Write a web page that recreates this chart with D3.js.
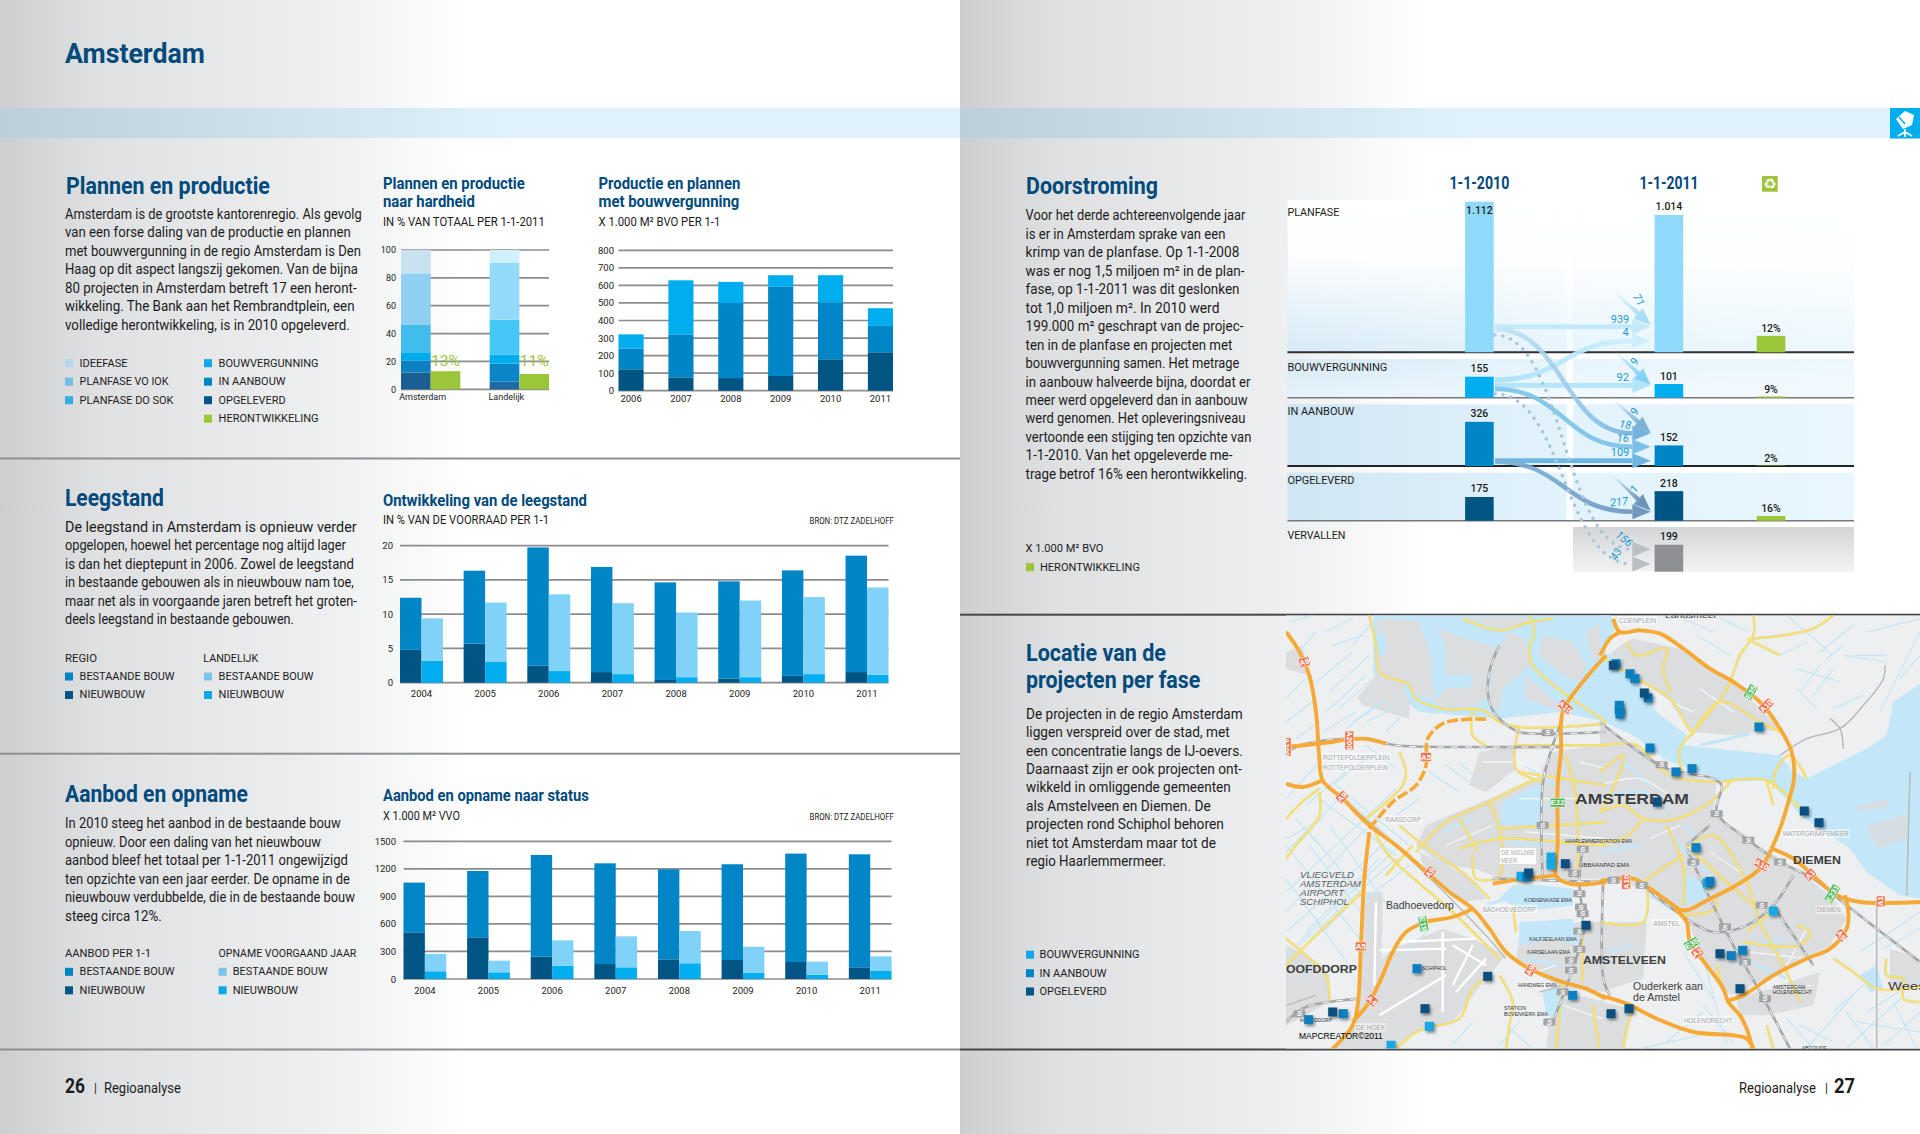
<!DOCTYPE html>
<html><head><meta charset="utf-8">
<script src="https://cdn.jsdelivr.net/npm/d3@7/dist/d3.min.js"></script>
<style>html,body{margin:0;padding:0;background:#fff}svg{display:block}</style>
</head><body><svg id="c" width="1920" height="1134"></svg>
<script>
/* ---------- DATA ---------- */
const hardheidCats=['Amsterdam','Landelijk'];
const hardheidPhases=['opgeleverd','aanbouw','bouwverg','dosok','voiok','idee'];
const hardheidAmsterdam=[12,8.6,6,19.6,37,16.8];
const hardheidLandelijk=[5.5,13,6.5,25,41,9];
const hardheidHerontw=[13,11];
const productieYears=['2006','2007','2008','2009','2010','2011'];
const prodOpgeleverd=[122,76,72,84,179,219];
const prodAanbouw=[119,245,428,509,323,150];
const prodBouwverg=[80,308,120,65,156,101];
const years8=['2004','2005','2006','2007','2008','2009','2010','2011'];
const leegRegioNieuw=[4.8,5.7,2.5,1.55,0.4,0.6,1.0,1.55];
const leegRegioTotaal=[12.4,16.35,19.75,16.9,14.65,14.8,16.4,18.55];
const leegLandNieuw=[3.2,3.1,1.7,1.25,0.8,0.8,1.25,1.15];
const leegLandTotaal=[9.4,11.7,12.9,11.6,10.25,12.0,12.5,13.9];
const aanbodNieuw=[508,454,243,163,214,207,185,127];
const aanbodTotaal=[1050,1177,1351,1260,1195,1250,1366,1358];
const opnameNieuw=[84,73,145,127,171,65,47,87];
const opnameTotaal=[272,200,421,465,523,352,189,247];
const flowRows=['PLANFASE','BOUWVERGUNNING','IN AANBOUW','OPGELEVERD','VERVALLEN'];
const stock2010=[1112,155,326,175,null];
const stock2011=[1014,101,152,218,199];
const stockLabels2010=['1.112','155','326','175',''];
const stockLabels2011=['1.014','101','152','218','199'];
const herontwPct=[12,9,2,16];
const curveLabels=['18','16','217'];
const straightLabels=['939','92','109'];
const dottedLabels=['156','43'];
const diagonalLabels=['71','9','9','1'];

const bodyPlannen=['Amsterdam is de grootste kantorenregio. Als gevolg','van een forse daling van de productie en plannen','met bouwvergunning in de regio Amsterdam is Den','Haag op dit aspect langszij gekomen. Van de bijna','80 projecten in Amsterdam betreft 17 een heront-','wikkeling. The Bank aan het Rembrandtplein, een','volledige herontwikkeling, is in 2010 opgeleverd.'];
const bodyLeegstand=['De leegstand in Amsterdam is opnieuw verder','opgelopen, hoewel het percentage nog altijd lager','is dan het dieptepunt in 2006. Zowel de leegstand','in bestaande gebouwen als in nieuwbouw nam toe,','maar net als in voorgaande jaren betreft het groten-','deels leegstand in bestaande gebouwen.'];
const bodyAanbod=['In 2010 steeg het aanbod in de bestaande bouw','opnieuw. Door een daling van het nieuwbouw','aanbod bleef het totaal per 1-1-2011 ongewijzigd','ten opzichte van een jaar eerder. De opname in de','nieuwbouw verdubbelde, die in de bestaande bouw','steeg circa 12%.'];
const bodyDoor=['Voor het derde achtereenvolgende jaar','is er in Amsterdam sprake van een','krimp van de planfase. Op 1-1-2008','was er nog 1,5 miljoen m² in de plan-','fase, op 1-1-2011 was dit geslonken','tot 1,0 miljoen m². In 2010 werd','199.000 m² geschrapt van de projec-','ten in de planfase en projecten met','bouwvergunning samen. Het metrage','in aanbouw halveerde bijna, doordat er','meer werd opgeleverd dan in aanbouw','werd genomen. Het opleveringsniveau','vertoonde een stijging ten opzichte van','1-1-2010. Van het opgeleverde me-','trage betrof 16% een herontwikkeling.'];
const bodyLocatie=['De projecten in de regio Amsterdam','liggen verspreid over de stad, met','een concentratie langs de IJ-oevers.','Daarnaast zijn er ook projecten ont-','wikkeld in omliggende gemeenten','als Amstelveen en Diemen. De','projecten rond Schiphol behoren','niet tot Amsterdam maar tot de','regio Haarlemmermeer.'];

/* map geography, in local map units of the west and east sheet */
const waterW=[
 [[262,10],[960,10],[960,330],[820,300],[640,320],[400,300],[262,190]],
 [[640,860],[680,820],[760,820],[860,830],[860,880],[780,890],[700,890]],
 [[650,570],[770,510],[770,640],[640,640]],
 [[700,930],[860,920],[880,1000],[790,980],[700,1000]],
 [[770,1140],[830,1120],[830,1220],[780,1210]]];
const waterE=[
 [[0,130],[30,125],[130,230],[170,300],[260,370],[250,400],[540,430],[580,480],[620,500],[800,410],[860,370],[880,270],[960,215],[960,860],[900,850],[800,780],[750,710],[600,610],[560,560],[500,505],[370,510],[300,480],[200,445],[100,370],[0,325]],
 [[0,0],[30,0],[45,50],[0,120]],
 [[250,790],[310,800],[330,860],[250,880]],
 [[780,1090],[830,1060],[850,1130],[810,1140]]];
const hatchE=[[[750,585],[870,560],[860,585],[780,595]],[[800,640],[920,605],[925,680],[830,710]]];
const portLandW=[
 [[275,20],[395,25],[430,110],[445,265],[385,245],[370,215],[285,185],[270,130],[300,130],[300,70],[270,60]],
 [[450,50],[640,110],[610,180],[600,260],[555,285],[470,285],[440,270],[480,230],[560,225],[560,185],[480,190],[480,100]],
 [[670,60],[715,80],[735,150],[700,190],[650,230],[640,300],[610,270],[620,140]],
 [[720,190],[800,260],[830,300],[720,260]],
 [[530,15],[720,15],[720,35],[640,50]],
 [[770,70],[860,90],[900,160],[880,210],[830,190],[760,130]],
 [[900,60],[960,20],[960,110],[920,150]]];
const urbanW=[
 [[215,255],[275,185],[350,215],[370,270],[370,320],[230,280]],
 [[420,640],[610,560],[750,500],[800,420],[960,395],[960,800],[640,800],[570,770],[470,760],[390,700]],
 [[580,420],[690,400],[690,470],[600,540],[550,520]],
 [[215,1220],[230,1100],[320,1010],[470,950],[560,980],[660,1030],[600,1100],[500,1230],[400,1260],[300,1310],[130,1320]],
 [[240,840],[290,840],[285,1140],[225,1130]],
 [[0,1000],[60,1030],[130,1090],[130,1170],[40,1220],[0,1240]],
 [[700,970],[880,930],[960,930],[960,1140],[830,1130],[690,1050]],
 [[810,1135],[960,1170],[960,1320],[780,1320],[790,1220]],
 [[400,720],[540,790],[600,860],[530,870],[420,790]],
 [[0,120],[50,100],[70,190],[0,170]]];
const urbanE=[
 [[60,100],[100,80],[240,110],[400,210],[540,350],[400,370],[280,360],[200,260],[100,190],[30,130]],
 [[0,340],[100,400],[200,470],[350,510],[340,600],[440,680],[590,770],[700,860],[740,920],[690,1000],[520,1090],[390,1150],[320,1060],[260,920],[225,890],[130,830],[0,800]],
 [[410,1160],[660,1080],[640,1180],[500,1210],[420,1210]],
 [[0,930],[140,930],[130,1100],[30,1130],[0,1130]],
 [[0,1170],[100,1190],[70,1320],[0,1320]],
 [[870,1010],[960,1040],[960,1130],[870,1120]]];
const canalsW=[[[600,880],[690,850]],[[720,460],[810,520]],[[700,560],[790,590]],[[470,660],[560,620]],[[660,690],[780,700]],[[720,1040],[820,1060]]];
const canalsE=[[[0,560],[130,540],[200,590]],[[260,640],[300,700]],[[0,720],[120,700]],[[150,850],[250,910]],[[430,1040],[560,1100]],[[450,1000],[560,980]],[[300,400],[450,365]],[[70,450],[150,520]],[[220,680],[330,790]],[[20,1020],[100,1000]]];
const streetsW=[[[680,440],[800,500]],[[700,560],[960,560]],[[480,700],[620,640]],[[880,450],[960,470]],[[720,660],[960,680]],[[590,450],[680,450]],[[720,1090],[810,1060]],[[830,1180],[950,1220]]];
const streetsE=[[[0,520],[120,500],[220,560]],[[150,680],[240,640]],[[330,720],[420,780]],[[450,1020],[620,1040]],[[120,230],[280,300]],[[300,230],[400,300]],[[560,1060],[620,950]],[[500,1130],[640,1120]]];
const runwaysW=[[[270,870],[265,1120]],[[330,990],[570,980]],[[470,960],[470,1200]],[[280,1015],[480,1010]],[[500,1000],[600,1060]],[[510,1140],[600,1040]],[[280,1210],[480,1090]],[[560,1000],[500,1120]]];
const ditchesW=[[[0,720],[180,540]],[[0,840],[330,530]],[[0,960],[300,690]],[[30,1000],[340,700]],[[110,960],[210,860]],[[60,580],[190,470]],[[0,560],[100,450]],[[140,520],[240,440]],[[30,130],[90,60]],[[130,240],[250,130]],[[160,290],[260,200]],[[200,330],[300,260]],[[130,640],[320,900]],[[70,700],[270,960]],[[0,800],[190,1060]],[[30,620],[100,700]],[[430,480],[520,540]],[[480,460],[550,510]],[[640,1300],[700,1230]],[[500,1300],[560,1230]],[[300,360],[370,290]],[[10,30],[80,10]],[[0,260],[60,200]],[[0,330],[90,260]],[[90,210],[200,120]],[[120,300],[240,190]],[[180,350],[290,270]],[[240,330],[320,290]],[[150,520],[370,700]],[[100,560],[330,730]],[[330,740],[40,1000]],[[370,760],[240,860]],[[0,1010],[70,1100]],[[200,100],[260,30]],[[120,60],[200,20]],[[240,400],[330,470]],[[110,620],[0,680]],[[0,900],[240,650]],[[60,960],[280,740]],[[180,560],[380,740]],[[60,650],[260,890]],[[0,700],[220,980]],[[110,360],[210,300]],[[30,380],[100,330]],[[140,100],[230,70]],[[330,610],[400,560]],[[520,450],[580,510]],[[660,1240],[740,1310]],[[330,1060],[430,950]]];
const ditchesE=[[[600,240],[660,160]],[[640,250],[700,170]],[[680,140],[730,100]],[[730,130],[860,150]],[[780,1020],[960,900]],[[800,1200],[960,1100]],[[850,1300],[960,1200]],[[740,1310],[900,1160]],[[620,1310],[760,1150]],[[120,1310],[300,1270]],[[300,1000],[380,1300]],[[250,1020],[340,1160]],[[560,10],[700,130]],[[540,130],[620,90]],[[900,200],[960,130]],[[840,300],[960,60]],[[590,170],[720,210]],[[590,230],[650,290]],[[760,130],[860,130]],[[700,290],[790,250]],[[770,1230],[960,1260]],[[600,1240],[700,1290]],[[740,1200],[820,1310]],[[250,20],[340,60]],[[360,20],[450,60]],[[290,70],[390,130]],[[880,1170],[950,1310]],[[660,120],[760,40]],[[800,60],[960,20]],[[850,1010],[960,950]],[[700,1200],[790,1120]],[[310,1180],[400,1290]],[[200,1290],[310,1200]],[[560,1220],[640,1310]]];
const grayRoadsW=[[[110,510],[350,720],[590,960],[660,1040]],[[0,1180],[90,1150]],[[760,1140],[830,1120]]];
const grayRoadsE=[[[540,430],[620,380],[720,350],[790,280],[850,200],[855,160]],[[690,320],[720,350],[730,410]],[[550,440],[520,490]],[[830,880],[830,1310]],[[930,480],[920,850]]];
const yellowW=[
 [[250,10],[270,100],[280,180],[370,220],[390,260],[470,290],[590,295],[640,330],[700,345],[820,345],[960,335]],
 [[560,295],[560,370],[600,400]],
 [[730,10],[745,60],[730,110],[740,160],[830,240],[880,275],[960,330]],
 [[530,20],[640,55],[730,30],[800,20]],
 [[700,340],[690,470],[770,510]],
 [[690,400],[960,400]],[[0,410],[50,400]],
 [[0,620],[60,560],[100,530]],
 [[100,540],[100,610],[30,700],[0,740]],
 [[340,420],[360,480],[350,520],[240,620]],
 [[340,640],[400,690],[470,740],[540,790],[610,860]],
 [[390,720],[480,630],[610,570],[730,510],[775,500]],
 [[610,570],[640,650],[650,730],[640,800]],
 [[640,650],[960,630]],
 [[520,710],[640,680],[820,690],[960,700]],
 [[560,730],[570,800],[640,800]],
 [[520,620],[560,690],[575,720]],
 [[700,480],[960,520]],
 [[840,430],[870,560],[875,800]],
 [[680,880],[690,960]],
 [[890,960],[890,1110]],
 [[640,1090],[680,1170],[670,1240],[660,1310]],
 [[605,1095],[560,1130],[520,1220],[400,1255],[330,1310]],
 [[0,980],[60,1030],[120,1090],[130,1170]],
 [[810,1310],[830,1110]],[[920,1180],[940,1310]],
 [[0,1060],[100,960],[230,840]],[[300,790],[380,700]],
 [[260,640],[300,720],[500,900],[640,1040]]];
const yellowE=[
 [[460,10],[460,70],[420,130],[380,230],[280,360],[240,410],[245,480]],
 [[460,80],[550,70],[640,50],[700,10]],
 [[0,130],[110,200],[210,260],[260,340],[280,370]],
 [[80,90],[110,130],[200,110],[190,170],[210,240]],
 [[280,360],[360,270],[480,330],[540,360]],
 [[370,510],[500,505],[600,590]],[[500,505],[520,580]],
 [[0,400],[110,400],[180,470],[240,500],[370,510]],
 [[0,480],[70,430],[60,480],[0,600]],
 [[0,600],[70,580],[130,620],[230,620],[330,570],[400,500]],
 [[130,620],[70,680],[0,690]],
 [[200,640],[250,770],[250,880]],
 [[140,800],[250,730]],
 [[260,710],[340,670],[440,810],[480,930],[550,1060],[600,1170]],
 [[280,720],[460,880]],
 [[440,960],[520,900],[540,900]],
 [[430,990],[600,1000],[630,960],[590,940]],
 [[340,850],[350,890],[250,910]],
 [[140,800],[130,930],[0,930]],
 [[700,1040],[760,1080],[830,1130],[960,1125]],
 [[860,1040],[860,1090],[910,1100],[910,1160],[960,1170]],
 [[350,1060],[370,1140]],[[500,1240],[520,1310]],
 [[100,1190],[80,1250],[70,1310]],
 [[540,130],[440,80]],[[620,500],[570,430],[530,470],[520,530]]];
const railW=[
 [[640,100],[610,180],[610,270],[640,320],[700,360],[790,365],[960,360]],
 [[0,420],[60,395],[240,380],[330,400],[600,405],[830,405]],
 [[830,320],[800,400],[770,520],[770,790]],
 [[890,710],[880,800],[890,960],[850,1100],[800,1230]],
 [[0,1230],[60,1185],[220,1160]],
 [[620,800],[960,810]]];
const railE=[
 [[0,330],[90,400],[200,470],[340,500],[365,520],[350,600],[440,680],[540,750],[640,800],[740,880],[960,1050]],
 [[260,710],[330,860],[400,1000],[480,1140],[570,1310]],
 [[260,700],[330,640]],
 [[130,820],[230,900],[340,960],[440,940],[520,880],[580,790]],
 [[520,880],[600,1000],[640,1060]],
 [[10,800],[10,1100],[30,1150]]];
const motorwayW=[
 [[0,60],[35,110],[70,190],[90,300],[100,440],[110,505],[170,560],[250,640],[330,700],[410,770],[490,840],[560,890],[610,950],[660,1020],[730,1070],[830,1110],[900,1130],[960,1160]],
 [[250,660],[235,800],[225,1000],[215,1180],[200,1240],[130,1320]],
 [[560,890],[500,915],[420,930],[360,960],[320,1020],[290,1090],[250,1170],[200,1230]],
 [[0,515],[50,525],[110,505]],
 [[0,405],[100,395],[230,380],[300,395]],
 [[960,130],[890,210],[830,300],[825,420],[815,520],[815,700],[810,790],[850,815],[960,810]],
 [[620,815],[680,805],[810,790]]];
const motorwayDashedW=[[[250,650],[320,570],[390,520],[420,460],[425,380],[470,335],[540,322],[610,322]]];
const motorwayE=[
 [[0,1150],[80,1175],[170,1220],[280,1260],[400,1270],[440,1280],[465,1320]],
 [[0,808],[100,800],[150,830],[240,895]],
 [[40,20],[60,60],[120,55],[180,65],[250,110],[330,170],[400,210],[480,270],[540,350],[575,420],[582,500],[565,570],[540,650],[515,710]],
 [[0,130],[30,80],[60,60]],
 [[515,710],[480,770],[400,825],[330,860],[260,895],[225,890]],
 [[515,710],[580,740],[650,800],[710,850],[780,870],[960,870]],
 [[735,850],[745,900],[740,950],[690,1010],[620,1040],[520,1090],[430,1150],[385,1165]],
 [[225,890],[260,930],[270,990],[320,1060],[370,1130],[385,1170],[420,1210],[440,1250],[460,1320]]];
const shieldsW=[['A9',55,150,-15],['A200',190,385,90],['A200',2,405,90],['A9',168,555,-45],['A5',420,435,0],['A10',838,285,40],['E22',815,572,0],['A9',432,782,-50],['E19',412,935,80],['A5',224,1003,0],['A4',258,1165,40],['A9',733,1075,-60]];
const shieldsE=[['E35',452,240,-60],['A10',498,282,-45],['A10',485,758,30],['A10',78,810,-90],['A1',630,788,-45],['E231',697,845,-60],['A1',842,868,-90],['A9',724,970,50],['E35',275,995,-30],['A2',292,1022,-35]];
const stationsW=[[785,362],[890,712],[865,785],[880,845],[885,885],[890,905],[880,958],[880,1012],[855,1045],[855,1075],[830,1140],[790,1230],[770,640],[40,1205]];
const stationsE=[[185,458],[350,605],[445,685],[540,750],[40,805],[125,820],[280,750],[375,945],[485,880],[435,1050],[495,1160]];
const placeGreyW=[['ROTTEPOLDERPLEIN',110,443,200],['ROTTEPOLDERPLEIN',110,474,196],['RAASDORP',298,631,107],['BADHOEVEDORP',590,899,160],['DE HOEK',210,1254,88]];
const placeGreyE=[['COENPLEIN',57,33,112],['WATERGRAAFSMEER',548,673,198],['DIEMEN',650,901,72],['AMSTEL',160,941,80],['HOLENDRECHT',252,1234,146]];
const placeSmallW=[['HAARLEMMERSTATION EMA',838,694,200],['UBBAANPAD EMA',880,765,150],['KOENENKADE EMA',715,871,143],['KALFJESLAAN EMA',730,987,143],['KARSELAAN EMA',724,1027,128],['HANDWEG EMA',696,1125,116],['STATION',654,1195,66],['BOVENKERK EMA',654,1211,132],['SCHIPHOL',408,1073,74],['HOOFDDORP',42,1231,96]];
const placeSmallE=[['AMSTERDAM',518,1130,98],['HOLENDRECHT',518,1145,118],['ABCOUDE',605,1314,76]];
const markersOpgeleverdW=[[838,755],[728,783],[900,940],[605,1093],[417,1190],[140,1200]];
const markersAanbouwW=[[722,795],[860,1150],[393,1070],[172,1205],[68,1223]];
const markersBouwvergW=[[795,735],[795,758],[705,793],[430,1243],[315,1300]];
const markersOpgeleverdE=[[40,160],[133,243],[172,570],[613,597],[657,632],[360,1025],[420,1130],[87,1190],[33,1205]];
const markersAanbouwE=[[48,155],[90,185],[105,200],[145,258],[58,280],[58,293],[60,306],[477,345],[150,408],[228,480],[276,470],[288,707],[330,808],[394,1031],[428,1015]];
const markersBouwvergE=[[322,813],[520,897]];

/* ---------- HELPERS ---------- */
const NARROW='Roboto,"Liberation Sans",sans-serif';
const svg=d3.select('#c'), defs=svg.append('defs');
const NAVY='#004a7c', INK='#1c1c1c', GREEN='#9bc63a';
const cLight='#00aeef', cMid='#0085c6', cDark='#005584', cPale='#80d2f8';
function T(x,y,s,o={}){
  const t=(o.g||svg).append('text').attr('x',x).attr('y',y).text(s)
   .attr('font-family',o.font||NARROW).attr('font-size',o.size||11).attr('fill',o.fill||INK)
   .attr('font-weight',o.weight||(o.bold?700:400)).attr('text-anchor',o.anchor||'start');
  if(o.italic)t.attr('font-style','italic');
  let tf='';
  if(o.rot!=null)tf+=`rotate(${o.rot} ${x} ${y}) `;
  if(o.w){ // horizontal condensing around the anchor, keeps the real box of the text equal to what is drawn
    const k=o.w/t.node().getComputedTextLength();
    tf+=`translate(${x} ${y}) scale(${k} 1) translate(${-x} ${-y})`;
  }
  if(tf)t.attr('transform',tf);
  return t;
}
function gradH(id,stops,x1=0,x2=1,y1=0,y2=0,user){
  const g=defs.append('linearGradient').attr('id',id).attr('x1',x1).attr('x2',x2).attr('y1',y1).attr('y2',y2);
  if(user)g.attr('gradientUnits','userSpaceOnUse');
  stops.forEach(s=>g.append('stop').attr('offset',s[0]).attr('stop-color',s[1]).attr('stop-opacity',s[2]==null?1:s[2]));
  return `url(#${id})`;
}
function body(lines,x,y0,widths,pitch=18.47){lines.forEach((l,i)=>T(x,y0+i*pitch,l,{size:14.5,w:widths[i]}));}
function legend(x,y,color,label,w,lx){
  svg.append('rect').attr('x',x).attr('y',y-7.5).attr('width',8).attr('height',8).attr('fill',color);
  T(lx,y,label,{size:11.5,w});
}

/* ---------- PAGES ---------- */
const pageBg=gradH('pg',[[0,'#cccecf'],[.1,'#dfe0e2'],[.34,'#eeeff0'],[.49,'#ffffff']]);
const bandBg=gradH('bb',[[0,'#bbcfdb'],[.25,'#cbdfe9'],[.52,'#dff1fb'],[1,'#dff1fb']]);
[0,960].forEach(x0=>{
  svg.append('rect').attr('x',x0).attr('y',0).attr('width',960).attr('height',1134).attr('fill',pageBg);
  svg.append('rect').attr('x',x0).attr('y',108).attr('width',960).attr('height',30).attr('fill',bandBg);
});
T(65,63.5,'Amsterdam',{size:28,bold:1,fill:NAVY,w:140});
[458.5,753.7,1049.5].forEach(y=>svg.append('rect').attr('x',0).attr('y',y-1).attr('width',960).attr('height',2).attr('fill','#8f9092'));
[[614.7,'#45474a'],[1049.5,'#45474a']].forEach(d=>svg.append('rect').attr('x',960).attr('y',d[0]-1).attr('width',960).attr('height',2).attr('fill',d[1]));
/* corner icon */
svg.append('rect').attr('x',1890).attr('y',108).attr('width',30).attr('height',30.5).attr('fill',cLight);
svg.append('path').attr('d','M1896 119 L1905 111 L1914 115 L1912 125 L1903 129 Z').attr('fill','#fff');
svg.append('path').attr('d','M1905 129 V133 M1898 136 L1905 132 L1912 136 M1905 132 V137').attr('stroke','#fff').attr('stroke-width',1.6).attr('fill','none');
svg.append('path').attr('d','M1899 117 L1905 124').attr('stroke',cLight).attr('stroke-width',1.4);

/* footer */
T(65,1093,'26',{size:21,bold:1,w:20});T(94,1092,'|',{size:12});T(104,1092.7,'Regioanalyse',{size:14.5,w:77});
T(1739,1092.7,'Regioanalyse',{size:14.5,w:77});T(1825,1092,'|',{size:12});T(1834,1093,'27',{size:21,bold:1,w:21});

/* ---------- SECTION TEXT ---------- */
T(66,194,'Plannen en productie',{size:23,bold:1,fill:NAVY,w:204});
body(bodyPlannen,65,218.8,[297,286,296,293,292,290,285]);
T(383,189,'Plannen en productie',{size:17,bold:1,fill:NAVY,w:142});
T(383,207.4,'naar hardheid',{size:17,bold:1,fill:NAVY,w:92});
T(383,226,'IN % VAN TOTAAL PER 1-1-2011',{size:12,w:162});
T(598.5,189,'Productie en plannen',{size:17,bold:1,fill:NAVY,w:142});
T(598.5,207.4,'met bouwvergunning',{size:17,bold:1,fill:NAVY,w:141});
T(598.5,226,'X 1.000 M² BVO PER 1-1',{size:12,w:122});
const lg1=[['IDEEFASE','#b3d6e8',48],['PLANFASE VO IOK','#72bde3',89],['PLANFASE DO SOK','#35ade2',94]];
lg1.forEach((d,i)=>legend(65,366.7+i*18.5,d[1],d[0],d[2],79.6));
const lg2=[['BOUWVERGUNNING','#14a7e5',100],['IN AANBOUW',cMid,67],['OPGELEVERD',cDark,67],['HERONTWIKKELING',GREEN,100]];
lg2.forEach((d,i)=>legend(204,366.7+i*18.5,d[1],d[0],d[2],218.6));

T(65,506,'Leegstand',{size:23,bold:1,fill:NAVY,w:99});
body(bodyLeegstand,65,532,[292,281,289,289,292,229]);
T(383,505.7,'Ontwikkeling van de leegstand',{size:17,bold:1,fill:NAVY,w:204});
T(383,524,'IN % VAN DE VOORRAAD PER 1-1',{size:12,w:166});
T(809.5,524,'BRON: DTZ ZADELHOFF',{size:8.5,w:84.5});
T(65,661.7,'REGIO',{size:11.5,w:32});T(203.3,661.7,'LANDELIJK',{size:11.5,w:55});
legend(65,680,cMid,'BESTAANDE BOUW',95,79.6);legend(65,698.5,cDark,'NIEUWBOUW',65.5,79.6);
legend(204,680,'#7cc4ea','BESTAANDE BOUW',95,218.6);legend(204,698.5,'#0ba8e6','NIEUWBOUW',65.5,218.6);

T(65,802,'Aanbod en opname',{size:23,bold:1,fill:NAVY,w:183});
body(bodyAanbod,65,828.3,[276,256,283,285,290,97]);
T(383,801,'Aanbod en opname naar status',{size:17,bold:1,fill:NAVY,w:206});
T(383,820,'X 1.000 M² VVO',{size:12,w:77});
T(809.5,820,'BRON: DTZ ZADELHOFF',{size:8.5,w:84.5});
T(65,957.3,'AANBOD PER 1-1',{size:11.5,w:86});T(218.6,957.3,'OPNAME VOORGAAND JAAR',{size:11.5,w:138});
legend(65,975.3,cMid,'BESTAANDE BOUW',95,79.6);legend(65,993.8,cDark,'NIEUWBOUW',65.5,79.6);
legend(218.6,975.3,'#7cc4ea','BESTAANDE BOUW',95,232.7);legend(218.6,993.8,'#0ba8e6','NIEUWBOUW',65.5,232.7);

T(1026,194.3,'Doorstroming',{size:23,bold:1,fill:NAVY,w:132});
body(bodyDoor,1025.6,220.3,[220,200,214,219,214,194,218,207,214,225,222,220,226,207,222]);
T(1025.6,552.3,'X 1.000 M² BVO',{size:11.5,w:78});
legend(1026,570.7,GREEN,'HERONTWIKKELING',100,1040);

T(1026,661.5,'Locatie van de',{size:23,bold:1,fill:NAVY,w:140});
T(1026,688.5,'projecten per fase',{size:23,bold:1,fill:NAVY,w:174.5});
body(bodyLocatie,1026,718.8,[217,204,217,216,205,185,198,190,140],18.4);
legend(1026,958.2,'#14a7e5','BOUWVERGUNNING',100,1039.6);
legend(1026,976.7,cMid,'IN AANBOUW',67,1039.6);
legend(1026,995,cDark,'OPGELEVERD',67,1039.6);

/* ---------- AXES ---------- */
function grid(y,ticks,x0,x1){
  svg.append('g').selectAll('line').data(ticks).join('line')
   .attr('x1',x0).attr('x2',x1).attr('y1',d=>y(d)).attr('y2',d=>y(d))
   .attr('stroke','#8b8c8e').attr('stroke-width',1.7);
}
function axes(x,y,ticks,pad,xPad,size=9.5){
  const ya=svg.append('g').attr('transform',`translate(${x.range()[0]},0)`)
    .call(d3.axisLeft(y).tickValues(ticks).tickFormat(d3.format('d')).tickSize(0).tickPadding(pad));
  ya.select('.domain').remove();
  const xa=svg.append('g').attr('transform',`translate(0,${y.range()[0]})`)
    .call(d3.axisBottom(x).tickSize(0).tickPadding(xPad));
  xa.select('.domain').remove();
  [ya,xa].forEach(g=>g.selectAll('text').attr('font-family',NARROW).attr('font-size',size).attr('fill',INK));
  return xa;
}
function stacked(x,y,groups,series,colors,dx=0,wid=null){
  const rows=groups.map((g,i)=>{const r={g};series.forEach((s,k)=>r[k]=s[i]);return r;});
  const st=d3.stack().keys(series.map((s,k)=>k))(rows);
  const bw=wid||x.bandwidth();
  st.forEach((layer,k)=>svg.append('g').selectAll('rect').data(layer).join('rect')
    .attr('x',d=>x(d.data.g)+dx).attr('width',bw)
    .attr('y',d=>y(d[1])).attr('height',d=>y(d[0])-y(d[1]))
    .attr('fill',(d,i)=>typeof colors[k]==='string'?colors[k]:colors[k][i]));
}

/* Chart 1 */
{
 const x=d3.scaleBand().domain(hardheidCats).range([401,549]).paddingInner(.331);
 const y=d3.scaleLinear().domain([0,100]).range([389.3,250]);
 const tk=[0,20,40,60,80,100];
 grid(y,tk,401,549);
 const bw=x.bandwidth()/2;
 const phaseColors=[['#1b5e94','#1f6aa3'],['#0c80c2','#0a85c8'],['#02abec','#00aeef'],['#41bcec','#45c8f8'],['#8fcff1','#92d9fa'],['#c8e2f2','#d0f0fd']];
 const series=hardheidPhases.map((p,k)=>[hardheidAmsterdam[k],hardheidLandelijk[k]]);
 stacked(x,y,hardheidCats,series,phaseColors,0,bw);
 svg.append('g').selectAll('rect').data(hardheidCats).join('rect')
  .attr('x',d=>x(d)+bw).attr('width',bw).attr('y',(d,i)=>y(hardheidHerontw[i])).attr('height',(d,i)=>y(0)-y(hardheidHerontw[i])).attr('fill',GREEN);
 hardheidCats.forEach((c,i)=>T(x(c)+bw*1.5,366,hardheidHerontw[i]+'%',{size:14,anchor:'middle',fill:GREEN,w:29}));
 const xa=axes(x,y,tk,5,4,9);
 const dxs=[-8,-13];
 xa.selectAll('text').attr('dx',(d,i)=>dxs[i]);
}
/* Chart 2 */
{
 const x=d3.scaleBand().domain(productieYears).range([618.5,893]).paddingInner(.496);
 const y=d3.scaleLinear().domain([0,800]).range([390.7,250.3]);
 const tk=d3.range(0,801,100);
 grid(y,tk,618.5,893);
 stacked(x,y,productieYears,[prodOpgeleverd,prodAanbouw,prodBouwverg],[cDark,cMid,cLight]);
 axes(x,y,tk,4.5,4.5);
}
/* paired bar charts */
function paired(x0,x1,pi,yMax,y0px,yTop,tk,pad,a,aT,b,bT){
 const x=d3.scaleBand().domain(years8).range([x0,x1]).paddingInner(pi);
 const y=d3.scaleLinear().domain([0,yMax]).range([y0px,yTop]);
 grid(y,tk,x0,x1);
 const bw=x.bandwidth()/2;
 stacked(x,y,years8,[a,aT.map((v,i)=>v-a[i])],[cDark,cMid],0,bw);
 stacked(x,y,years8,[b,bT.map((v,i)=>v-b[i])],[cLight,cPale],bw,bw);
 axes(x,y,tk,pad,8);
}
paired(400,888.5,.325,20,682.7,545.7,[0,5,10,15,20],7,leegRegioNieuw,leegRegioTotaal,leegLandNieuw,leegLandTotaal);
paired(403.5,891.6,.328,1500,979,841.3,[0,300,600,900,1200,1500],7.5,aanbodNieuw,aanbodTotaal,opnameNieuw,opnameTotaal);

/* ---------- DOORSTROMING ---------- */
{
 const rowBase=[352.3,397.7,466,520.7,571.7], rowTop=[200,359,404.3,472.7,527];
 const L=1287.4,R=1854,SL=1566.7,SR=1573;
 const h=d3.scaleLinear().domain([0,1112]).range([0,150.6]);
 const colCenter=d3.scaleOrdinal().domain(['a','b','c']).range([1479.4,1668.9,1771]);
 const rowFill=gradH('rf',[[0,'#cfe6f4'],[.5,'#e3f3fc'],[1,'#e9f6fd']]);
 const fadeV=gradH('fv',[[0,'#fff',1],[.4,'#fff',.9],[1,'#fff',.15]],0,0,0,1);
 const fadeR2=gradH('fr2',[[0,'#fff',.15],[1,'#fff',.5]],0,0,0,1);
 rowTop.slice(0,4).forEach((t,i)=>{
   svg.append('rect').attr('x',L).attr('y',t).attr('width',R-L).attr('height',rowBase[i]-t).attr('fill',rowFill);
   if(i==0)svg.append('rect').attr('x',L).attr('y',t).attr('width',R-L).attr('height',rowBase[i]-t).attr('fill',fadeV);
   if(i==1)svg.append('rect').attr('x',L).attr('y',t).attr('width',R-L).attr('height',rowBase[i]-t).attr('fill',fadeR2);
   svg.append('rect').attr('x',SL).attr('y',t).attr('width',SR-SL).attr('height',rowBase[i]-t).attr('fill','#fff').attr('opacity',i==0?.5:.9);
 });
 svg.append('rect').attr('x',SR).attr('y',527).attr('width',R-SR).attr('height',44.7).attr('fill',gradH('gv',[[0,'#d4d5d7'],[1,'#f3f3f4']],0,0,0,1));
 [['#2f3133',2],['#77797b',1.6],['#232426',1.8],['#77797b',1.6]].forEach((s,i)=>svg.append('line').attr('x1',L).attr('x2',R).attr('y1',rowBase[i]).attr('y2',rowBase[i]).attr('stroke',s[0]).attr('stroke-width',s[1]));
 const lw=[52,100,67,67,58], ly=[215.8,371,415.5,483.8,538.8];
 flowRows.forEach((r,i)=>T(L,ly[i],r,{size:11.5,w:lw[i]}));
 T(colCenter('a'),189.5,'1-1-2010',{size:18,bold:1,fill:NAVY,anchor:'middle',w:60});
 T(colCenter('b'),189.5,'1-1-2011',{size:18,bold:1,fill:NAVY,anchor:'middle',w:59});
 svg.append('rect').attr('x',1762).attr('y',176).attr('width',15.7).attr('height',15.7).attr('fill',GREEN);
 T(1769.9,189.3,'♻',{size:15,fill:'#fff',anchor:'middle',font:'"DejaVu Sans",sans-serif'});
 const fills=['#8fdafa',cLight,cMid,cDark,'#8f9094'];
 const bar=(cx,v,i)=>svg.append('rect').attr('x',cx-14.3).attr('width',28.6).attr('y',rowBase[i]-h(v)).attr('height',h(v)).attr('fill',fills[i]);
 stock2010.forEach((v,i)=>{ if(v==null)return; bar(colCenter('a'),v,i);
   const top=rowBase[i]-h(v);
   T(colCenter('a'),i==0?top+12:top-5,stockLabels2010[i],{size:10.5,weight:500,anchor:'middle'});});
 stock2011.forEach((v,i)=>{ bar(colCenter('b'),v,i);
   const top=rowBase[i]-h(v);
   T(colCenter('b'),top-4.5,stockLabels2011[i],{size:10.5,weight:500,anchor:'middle'});});
 herontwPct.forEach((p,i)=>{
   const hh=h(stock2011[i]*p/100);
   svg.append('rect').attr('x',colCenter('c')-14.3).attr('width',28.6).attr('y',rowBase[i]-hh).attr('height',hh).attr('fill',GREEN);
   T(colCenter('c'),rowBase[i]-hh-3.7,p+'%',{size:10.5,weight:500,anchor:'middle'});
 });
 const X0=1495,HS=1632.3,TIP=1650.7,HW=7.5;
 const head=(y,fill,op=1)=>{const p=d3.path();p.moveTo(HS,y-HW);p.lineTo(TIP,y);p.lineTo(HS,y+HW);p.closePath();
   svg.append('path').attr('d',p.toString()).attr('fill',fill).attr('opacity',op);};
 const link=d3.linkHorizontal();
 const yStraight=[326.7,385.3,460.7];
 const straightCols=['#c4e9fb','#b3e5fb','#6db6e4'];
 straightLabels.forEach((l,i)=>{
   const y=yStraight[i];
   svg.append('rect').attr('x',X0).attr('y',y-2.4).attr('width',HS-X0).attr('height',4.8).attr('fill',straightCols[i]);
   head(y,straightCols[i]);
 });
 const curves=[
   {y0:380,y1:340.7,c0:'#a7e0fa',c1:'#cdeefc'},
   {y0:329.3,y1:433.3,c0:'#c8e6f7',c1:'#76b4de'},
   {y0:389,y1:446.7,c0:'#7cc6ec',c1:'#7cc0e8'},
   {y0:461.7,y1:511.7,c0:'#79b4da',c1:'#6f98bd'}];
 curves.forEach((c,i)=>{
   const gr=gradH('cv'+i,[[0,c.c0],[1,c.c1]],X0,HS,0,0,true);
   svg.append('path').attr('d',link({source:[X0,c.y0],target:[HS,c.y1]})).attr('fill','none').attr('stroke',gr).attr('stroke-width',i==0?5:4.6).attr('opacity',.92);
   head(c.y1,c.c1);
 });
 const dotted=[{y0:335,y1:549.3},{y0:394,y1:564}];
 dotted.forEach(c=>{
   svg.append('path').attr('d',link({source:[X0,c.y0],target:[HS,c.y1]})).attr('fill','none').attr('stroke','#a9c6d6').attr('stroke-width',3.6).attr('stroke-linecap','round').attr('stroke-dasharray','0 8');
   head(c.y1,'#b9bec3');
 });
 const diags=[{x0:1610,y0:288,y1:325,c:'#a8dcf8'},{x0:1610,y0:346.7,y1:385,c:'#86d2f7'},{x0:1610,y0:396.7,y1:433,c:'#7fb2d8'},{x0:1610,y0:473.3,y1:510.7,c:'#6d94b8'}];
 diags.forEach((d,i)=>{
   const ang=Math.atan2(d.y1-d.y0,TIP-d.x0), ca=Math.cos(ang), sa=Math.sin(ang);
   const neck=[TIP-17*ca,d.y1-17*sa];
   const gr=gradH('dg'+i,[[0,d.c,0],[.75,d.c,1],[1,d.c,1]],d.x0,TIP,d.y0,d.y1,true);
   const P=(x,y)=>`${x},${y}`;
   const w1=2.3,w2=7;
   const poly=[P(d.x0,d.y0),P(neck[0]-w1*sa,neck[1]+w1*ca),P(neck[0]-w2*sa,neck[1]+w2*ca),P(TIP,d.y1),P(neck[0]+w2*sa,neck[1]-w2*ca),P(neck[0]+w1*sa,neck[1]-w1*ca)].join(' ');
   svg.append('polygon').attr('points',poly).attr('fill',gr);
 });
 const LBL='#1a9ad6';
 const ZX=z=>1400+z/3, ZY=z=>300+z/3;
 const fl=(s,zx,zy,rot,it)=>T(ZX(zx),ZY(zy),s,{size:11,anchor:'middle',fill:LBL,rot,italic:it});
 fl(straightLabels[0],660,68,0);fl('4',677,108,0);fl(straightLabels[1],668,242,0);fl(straightLabels[2],660,468,0);
 fl(curveLabels[0],674,385,8,1);fl(curveLabels[1],668,426,0,1);fl(curveLabels[2],658,617,-6,1);
 fl(diagonalLabels[1],713,190,-60,1);fl(diagonalLabels[2],713,340,-60,1);fl(diagonalLabels[3],712,573,-55,1);
 T(1635.6,301.7,diagonalLabels[0],{size:11,anchor:'middle',fill:LBL,rot:60,italic:1});
 fl(dottedLabels[0],665,725,40,1);fl(dottedLabels[1],658,768,-60,1);
}

/* ---------- MAP ---------- */
{
 defs.append('clipPath').attr('id','mapClip').append('rect').attr('x',1286).attr('y',615.5).attr('width',634).attr('height',433);
 const m=svg.append('g').attr('clip-path','url(#mapClip)');
 m.append('rect').attr('x',1286).attr('y',612).attr('width',634).attr('height',440).attr('fill','#edeff0');
 const my=d3.scaleLinear().domain([0,1320]).range([612,1052]);
 const mxW=d3.scaleLinear().domain([0,960]).range([1286,1606]);
 const mxE=d3.scaleLinear().domain([0,960]).range([1600,1920]);
 const line=(mx,curve)=>d3.line().x(d=>mx(d[0])).y(d=>my(d[1])).curve(curve);
 const poly=(data,mx,fill)=>m.append('g').selectAll('path').data(data).join('path')
    .attr('d',d=>line(mx,d3.curveLinearClosed)(d)).attr('fill',fill);
 const stroke=(data,mx,col,w,extra={})=>{const s=m.append('g').selectAll('path').data(data).join('path')
    .attr('d',d=>line(mx,d3.curveCatmullRom.alpha(.5))(d)).attr('fill','none').attr('stroke',col).attr('stroke-width',w).attr('stroke-linejoin','round');
    Object.entries(extra).forEach(([k,v])=>s.attr(k,v));return s;};
 const WATER='#c3e7f9', URB='#dcddde';
 poly(waterW.slice(0,1),mxW,WATER);
 poly(urbanW,mxW,URB);poly(urbanE,mxE,URB);
 poly(portLandW,mxW,URB);
 poly(waterW.slice(1),mxW,WATER);poly(waterE,mxE,WATER);
 poly(hatchE,mxE,'#d7dee3');
 stroke(ditchesW,mxW,'#c4e6f7',1.2);stroke(ditchesE,mxE,'#c4e6f7',1.2);
 stroke(canalsW,mxW,WATER,3);stroke(canalsE,mxE,WATER,3);
 stroke(streetsW,mxW,'#f4f5f6',1.4);stroke(streetsE,mxE,'#f4f5f6',1.4);
 stroke(runwaysW,mxW,'#ffffff',2.4);
 stroke(grayRoadsW,mxW,'#b7b9bb',1.3);stroke(grayRoadsE,mxE,'#b7b9bb',1.5);
 stroke(yellowW,mxW,'#ddd29d',2.5);stroke(yellowE,mxE,'#ddd29d',2.5);
 stroke(yellowW,mxW,'#f9e36c',1.8);stroke(yellowE,mxE,'#f9e36c',1.8);
 stroke(railW,mxW,'#a4a6a8',2.6);stroke(railE,mxE,'#a4a6a8',2.6);
 stroke(railW,mxW,'#ffffff',1,{'stroke-dasharray':'7 7'});stroke(railE,mxE,'#ffffff',1,{'stroke-dasharray':'7 7'});
 stroke(motorwayW,mxW,'#f6a934',3.9);stroke(motorwayE,mxE,'#f6a934',3.9);
 stroke(motorwayDashedW,mxW,'#f6a934',3.6,{'stroke-dasharray':'11 3'});
 const st=(list,mx)=>list.forEach(d=>{
   m.append('rect').attr('x',mx(d[0])-6).attr('y',my(d[1])-3.5).attr('width',12).attr('height',7).attr('rx',1).attr('fill','#a2a4a6');
   T(mx(d[0]),my(d[1])+2.8,'S',{g:m,size:8,bold:1,fill:'#fff',anchor:'middle',font:'"Liberation Sans",sans-serif',italic:1});
 });
 st(stationsW,mxW);st(stationsE,mxE);
 const sh=(list,mx)=>list.forEach(d=>{
   const g=m.append('g').attr('transform',`translate(${mx(d[1])},${my(d[2])}) rotate(${d[3]})`);
   const isE=d[0][0]=='E', w=d[0].length*3.9+3;
   g.append('rect').attr('x',-w/2).attr('y',-4.4).attr('width',w).attr('height',8.8).attr('rx',1).attr('fill',isE?'#4fb858':'#ef7350').attr('stroke','#fff').attr('stroke-width',.5);
   T(0,2.8,d[0],{g,size:7.8,bold:1,fill:'#fff',anchor:'middle',font:'"Liberation Sans",sans-serif'});
 });
 sh(shieldsW,mxW);sh(shieldsE,mxE);
 const labelG=(list,mx)=>list.forEach(d=>{
   m.append('rect').attr('x',mx(d[1])-1).attr('y',my(d[2])-7).attr('width',d[3]/3+2).attr('height',8.5).attr('fill','#fff').attr('opacity',.5);
   T(mx(d[1]),my(d[2]),d[0],{g:m,size:6.6,fill:'#a5a7a9',font:'"Liberation Sans",sans-serif',w:d[3]/3});
 });
 labelG(placeGreyW,mxW);labelG(placeGreyE,mxE);
 const labelS=(list,mx)=>list.forEach(d=>T(mx(d[1]),my(d[2]),d[0],{g:m,size:5.2,fill:'#333',font:'"Liberation Sans",sans-serif',w:d[3]/3}));
 labelS(placeSmallW,mxW);labelS(placeSmallE,mxE);
 m.append('rect').attr('x',1500).attr('y',848).attr('width',36).attr('height',16).attr('fill','#fff').attr('opacity',.9);
 T(1501,855,'DE NIEUWE',{g:m,size:6.4,fill:'#aaa',font:'"Liberation Sans",sans-serif',w:34});
 T(1501,863,'MEER',{g:m,size:6.4,fill:'#aaa',font:'"Liberation Sans",sans-serif',w:16});
 const F='"Liberation Sans",sans-serif', DK='#3b3d40';
 T(1575,804,'AMSTERDAM',{g:m,size:14,bold:1,fill:DK,font:F,w:114});
 T(1793,864,'DIEMEN',{g:m,size:10.5,bold:1,fill:DK,font:F,w:48});
 T(1583,964,'AMSTELVEEN',{g:m,size:10.5,bold:1,fill:DK,font:F,w:83});
 T(1286,973.5,'OOFDDORP',{g:m,size:10.5,bold:1,fill:DK,font:F,w:71});
 T(1386,908.7,'Badhoevedorp',{g:m,size:10,fill:DK,font:F,w:68});
 T(1633,990,'Ouderkerk aan',{g:m,size:10,fill:DK,font:F,w:70});
 T(1633,1001,'de Amstel',{g:m,size:10,fill:DK,font:F,w:47});
 T(1888,990,'Weesp',{g:m,size:10.5,fill:DK,font:F,w:46});
 T(1665,618,'Landsmeer',{g:m,size:8,fill:DK,font:F,w:52});
 [['VLIEGVELD',878,54],['AMSTERDAM',887,61],['AIRPORT',896,44],['SCHIPHOL',905,49]].forEach(d=>T(1300,d[1],d[0],{g:m,size:8.2,italic:1,fill:'#5d5f62',font:F,w:d[2]}));
 T(1299,1038.7,'MAPCREATOR©2011',{g:m,size:9,fill:'#000',font:F,w:84});
 const shadow=defs.append('filter').attr('id','msh').attr('x','-60%').attr('y','-60%').attr('width','240%').attr('height','240%');
 shadow.append('feDropShadow').attr('dx',1.5).attr('dy',2).attr('stdDeviation',1.8).attr('flood-color','#000').attr('flood-opacity',.45);
 const mk=(list,mx,col)=>m.append('g').selectAll('rect').data(list).join('rect')
    .attr('x',d=>mx(d[0])-4.5).attr('y',d=>my(d[1])-4.5).attr('width',9).attr('height',9).attr('fill',col).attr('filter','url(#msh)');
 mk(markersBouwvergW,mxW,'#14a7e5');mk(markersBouwvergE,mxE,'#14a7e5');
 mk(markersAanbouwW,mxW,'#0a7fc0');mk(markersAanbouwE,mxE,'#0a7fc0');
 mk(markersOpgeleverdW,mxW,'#0b4f7f');mk(markersOpgeleverdE,mxE,'#0b4f7f');
}
</script></body></html>
